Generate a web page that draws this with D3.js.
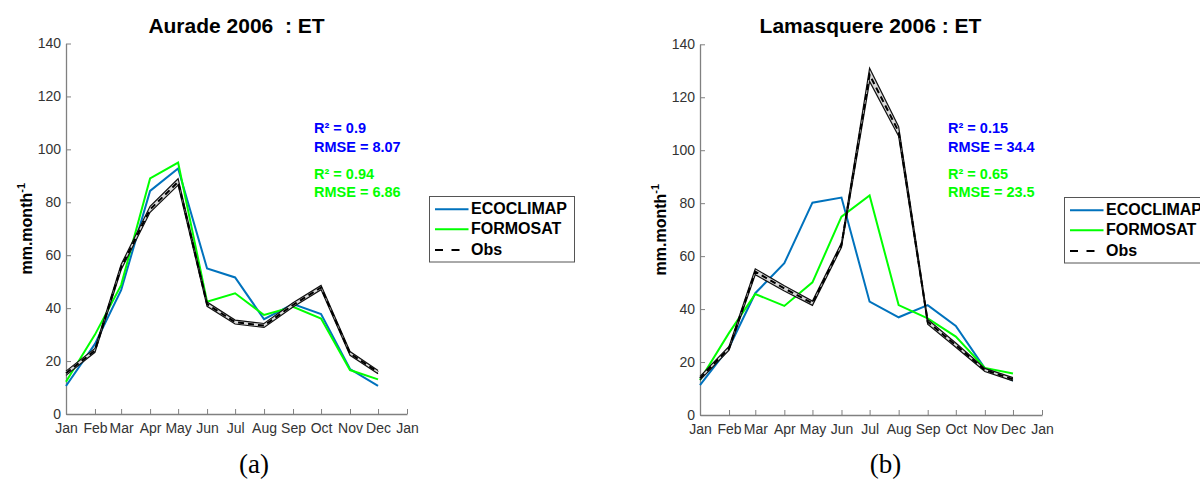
<!DOCTYPE html>
<html><head><meta charset="utf-8">
<script src="https://cdn.jsdelivr.net/npm/d3@7"></script>
<style>
body{margin:0;background:#fff}
svg{display:block}
</style>
</head><body>
<svg id="c" width="1200" height="479"></svg>
<script>
// ---------- data ----------
const monthLabels = ["Jan","Feb","Mar","Apr","May","Jun","Jul","Aug","Sep","Oct","Nov","Dec","Jan"];
const yTicks = [0,20,40,60,80,100,120,140];
const seriesNames = ["ECOCLIMAP","FORMOSAT","Obs"];

const auradeEcoclimap = [10.6,26.5,46.8,84.3,92.8,55.0,51.6,35.8,41.5,37.8,17.0,10.6];
const auradeFormosat  = [12.2,30.0,48.7,89.0,95.0,42.4,45.6,37.4,40.5,36.1,16.6,13.1];
const auradeObs       = [15.4,24.0,55.5,77.3,87.7,41.5,34.7,33.4,41.2,47.8,22.9,15.8];
const auradeObsLow    = [14.6,23.3,54.5,76.2,86.5,40.7,34.0,32.7,40.4,47.0,22.2,15.2];
const auradeObsHigh   = [16.2,24.8,56.5,78.5,88.9,42.3,35.5,34.2,42.0,48.6,23.6,16.4];
const auradeStats     = ["R² = 0.9","RMSE = 8.07","R² = 0.94","RMSE = 6.86"];

const lamasEcoclimap = [11.3,25.5,46.0,57.3,80.2,82.1,42.8,36.9,41.5,33.6,17.6,13.0];
const lamasFormosat  = [13.2,31.0,45.7,41.2,50.1,74.9,82.9,41.5,36.5,29.6,17.8,15.7];
const lamasObs       = [13.9,25.2,54.1,47.8,42.2,64.2,128.5,107.0,35.2,26.4,17.0,13.5];
const lamasObsLow    = [13.2,24.5,53.0,46.8,41.4,63.3,126.0,105.3,34.3,25.6,16.4,12.9];
const lamasObsHigh   = [14.6,25.9,55.2,48.8,43.0,65.0,131.0,108.9,36.1,27.2,17.6,14.1];
const lamasStats     = ["R² = 0.15","RMSE = 34.4","R² = 0.65","RMSE = 23.5"];

const titles = ["Aurade 2006  : ET","Lamasquere 2006 : ET"];
const panelLabels = ["(a)","(b)"];

// ---------- styles ----------
const SANS = '"Liberation Sans",Arial,Helvetica,sans-serif';
const SERIF = '"Liberation Serif","Times New Roman",serif';
const cBlue = "#0072BD", cGreen = "#00FF00", cTextBlue = "#0000FF", cTextGreen = "#00FF00";
const axisGrey = "#808080", tickTextCol = "#333333";

const svg = d3.select("#c");
svg.append("rect").attr("width",1200).attr("height",479).attr("fill","#fff");

const panels = [
  {title:titles[0], label:panelLabels[0], eco:auradeEcoclimap, form:auradeFormosat, obs:auradeObs, lo:auradeObsLow, hi:auradeObsHigh, stats:auradeStats,
   x0:66, x1:407, yB:414, yT:43.5, titleX:236.5, titleY:32.7, statX:314, ylabX:31.5, legX:429, legY:196, legW:145, labX:254},
  {title:titles[1], label:panelLabels[1], eco:lamasEcoclimap, form:lamasFormosat, obs:lamasObs, lo:lamasObsLow, hi:lamasObsHigh, stats:lamasStats,
   x0:700, x1:1042, yB:415, yT:44.3, titleX:870.5, titleY:33.2, statX:948, ylabX:665.5, legX:1064, legY:197, legW:160, labX:885.5}
];

const dates = d3.range(12).map(i => new Date(2006, i, 1));
const tickDates = d3.range(13).map(i => new Date(2006, i, 1));

panels.forEach(p => {
  const g = svg.append("g");
  const x = d3.scaleTime().domain([new Date(2006,0,1), new Date(2007,0,1)]).range([p.x0, p.x1]);
  const y = d3.scaleLinear().domain([0,140]).range([p.yB, p.yT]);

  // axes
  const xa = d3.axisBottom(x).tickValues(tickDates).tickFormat((d,i)=>monthLabels[i])
      .tickSizeInner(-5).tickSizeOuter(0).tickPadding(9);
  const ya = d3.axisLeft(y).tickValues(yTicks).tickSizeInner(-5).tickSizeOuter(0).tickPadding(5);
  const gx = g.append("g").attr("transform",`translate(0,${p.yB})`).call(xa);
  const gy = g.append("g").attr("transform",`translate(${p.x0},0)`).call(ya);
  [gx,gy].forEach(a=>{
    a.select(".domain").attr("stroke",axisGrey).attr("stroke-width",1.3);
    a.selectAll(".tick line").attr("stroke",axisGrey).attr("stroke-width",1);
    a.selectAll(".tick text").attr("fill",tickTextCol).style("font-size","14px").style("font-family",SANS);
  });
  gy.selectAll(".tick text").attr("dy","0.3em");

  // lines
  const line = arr => d3.line().x((d,i)=>x(dates[i])).y(d=>y(d))(arr);
  g.append("path").attr("d",line(p.eco)).attr("fill","none").attr("stroke",cBlue).attr("stroke-width",2);
  g.append("path").attr("d",line(p.form)).attr("fill","none").attr("stroke",cGreen).attr("stroke-width",2);

  // obs band
  const area = d3.area().x((d,i)=>x(dates[i])).y0((d,i)=>y(p.lo[i])).y1((d,i)=>y(p.hi[i]));
  g.append("path").attr("d",area(p.obs)).attr("fill","#d9d9d9").attr("stroke","none");
  g.append("path").attr("d",line(p.hi)).attr("fill","none").attr("stroke","#111").attr("stroke-width",1.2);
  g.append("path").attr("d",line(p.lo)).attr("fill","none").attr("stroke","#111").attr("stroke-width",1.2);
  g.append("path").attr("d",line(p.obs)).attr("fill","none").attr("stroke","#000").attr("stroke-width",2).attr("stroke-dasharray","6,4");

  // title
  g.append("text").attr("x",p.titleX).attr("y",p.titleY).attr("text-anchor","middle")
    .style("font-family",SANS).style("font-size","21px").style("font-weight","bold").style("white-space","pre")
    .attr("fill","#000").text(p.title);

  // y label
  const yl = g.append("text").attr("transform",`translate(${p.ylabX},${(p.yB+p.yT)/2}) rotate(-90)`)
    .attr("text-anchor","middle").style("font-family",SANS).style("font-size","16px").style("font-weight","bold").attr("fill","#000");
  yl.append("tspan").text("mm.month");
  yl.append("tspan").style("font-size","11px").attr("dy",-7).text("-1");

  // stats
  const statY = [132.7,151.7,179.3,197.3];
  const statC = [cTextBlue,cTextBlue,cTextGreen,cTextGreen];
  p.stats.forEach((s,i)=>{
    g.append("text").attr("x",p.statX).attr("y",statY[i])
      .style("font-family",SANS).style("font-size","14.5px").style("font-weight","bold")
      .attr("fill",statC[i]).text(s);
  });

  // legend
  const lg = g.append("g");
  lg.append("rect").attr("x",p.legX+0.5).attr("y",p.legY+0.5).attr("width",p.legW).attr("height",65.5)
    .attr("fill","#fff").attr("stroke","#555").attr("stroke-width",1);
  const rowY = [13.3,33.3,54];
  const cols = [cBlue,cGreen,"#000"];
  seriesNames.forEach((n,i)=>{
    const ly = p.legY + rowY[i];
    lg.append("line").attr("x1",p.legX+6).attr("x2",p.legX + (i===2 ? 31 : 39.5)).attr("y1",ly).attr("y2",ly)
      .attr("stroke",cols[i]).attr("stroke-width",2).attr("stroke-dasharray", i===2 ? "8,8.5" : null);
    lg.append("text").attr("x",p.legX+42).attr("y",ly+5)
      .style("font-family",SANS).style("font-size","16px").style("font-weight","bold")
      .attr("fill","#000").text(n);
  });

  // panel label
  g.append("text").attr("x",p.labX).attr("y",473).attr("text-anchor","middle")
    .style("font-family",SERIF).style("font-size","27px").attr("fill","#000")
    .text(p.label);
});
</script>
</body></html>
